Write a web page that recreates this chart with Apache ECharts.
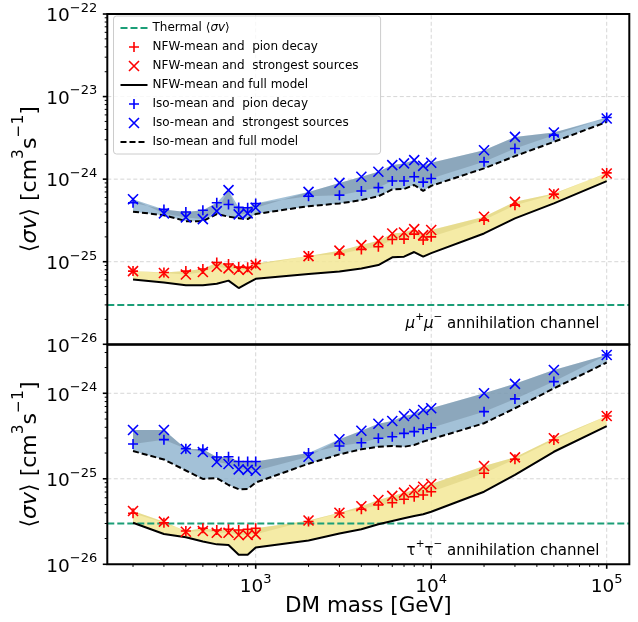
<!DOCTYPE html>
<html><head><meta charset="utf-8">
<script src="https://cdn.jsdelivr.net/npm/echarts@6/dist/echarts.min.js"></script>
<style>html,body{margin:0;padding:0;background:#fff}#c{width:638px;height:622px}#err{position:absolute;left:0;top:300px;font:11px monospace;color:#c00;white-space:pre-wrap;width:638px}</style>
</head><body><div id="c"></div><div id="err"></div>
<script>
window.onerror = function (m, s, l, c, e) { document.getElementById('err').textContent += 'ERR ' + m + ' @' + l + ':' + c + '\n'; };
// ---------------- data ----------------
const masses = [200,300,400,500,600,700,800,900,1000,2000,3000,4000,5000,6000,7000,8000,9000,10000,20000,30000,50000,100000];
const thermal = [3e-26];

// mu+ mu- channel (top panel)
const muNfwPion   = [7.7e-26,7.4e-26,7.7e-26,8.15e-26,9.8e-26,9.4e-26,8.6e-26,8.55e-26,9.5e-26,1.17e-25,1.24e-25,1.41e-25,1.52e-25,1.86e-25,1.88e-25,2.16e-25,1.83e-25,2.0e-25,3.19e-25,4.84e-25,6.58e-25,1.19e-24];
const muNfwStrong = [7.7e-26,7.3e-26,7.0e-26,7.5e-26,8.7e-26,8.3e-26,8.0e-26,8.0e-26,9.1e-26,1.17e-25,1.36e-25,1.59e-25,1.79e-25,2.2e-25,2.26e-25,2.48e-25,2.1e-25,2.42e-25,3.5e-25,5.31e-25,6.71e-25,1.17e-24];
const muNfwFull   = [6.1e-26,5.6e-26,5.2e-26,5.2e-26,5.4e-26,5.9e-26,4.8e-26,5.5e-26,6.2e-26,7.1e-26,7.6e-26,8.3e-26,9.1e-26,1.13e-25,1.15e-25,1.31e-25,1.15e-25,1.27e-25,2.2e-25,3.35e-25,5.08e-25,9.46e-25];
const muIsoPion   = [5.17e-25,4.3e-25,4.0e-25,4.2e-25,5.17e-25,4.94e-25,4.55e-25,4.5e-25,5.08e-25,6.2e-25,6.4e-25,7.2e-25,7.9e-25,9.5e-25,9.5e-25,1.07e-24,9.2e-25,1.02e-24,1.62e-24,2.35e-24,3.41e-24,5.57e-24];
const muIsoStrong = [5.7e-25,3.85e-25,3.44e-25,3.28e-25,4.1e-25,7.36e-25,3.74e-25,3.85e-25,4.5e-25,7.0e-25,9.0e-25,1.07e-24,1.23e-24,1.48e-24,1.55e-24,1.70e-24,1.45e-24,1.58e-24,2.24e-24,3.25e-24,3.67e-24,5.42e-24];
const muIsoFull   = [4.04e-25,3.66e-25,3.10e-25,3.10e-25,3.78e-25,3.51e-25,3.37e-25,3.28e-25,3.78e-25,4.71e-25,5.08e-25,5.57e-25,6.2e-25,7.5e-25,7.6e-25,8.5e-25,7.2e-25,8.3e-25,1.35e-24,1.90e-24,2.83e-24,4.93e-24];

// tau+ tau- channel (bottom panel)
const tauNfwPion   = [3.95e-26,3.06e-26,2.45e-26,2.64e-26,2.52e-26,2.57e-26,2.52e-26,2.57e-26,2.64e-26,3.17e-26,3.98e-26,4.4e-26,4.94e-26,5.25e-26,5.76e-26,6.17e-26,6.46e-26,7.06e-26,1.16e-25,1.69e-25,2.84e-25,5.43e-25];
const tauNfwStrong = [4.2e-26,3.15e-26,2.4e-26,2.45e-26,2.34e-26,2.34e-26,2.2e-26,2.2e-26,2.24e-26,3.25e-26,4.0e-26,4.77e-26,5.65e-26,6.3e-26,6.88e-26,7.4e-26,8.08e-26,8.7e-26,1.41e-25,1.78e-25,2.98e-25,5.43e-25];
const tauNfwFull   = [3.06e-26,2.26e-26,2.07e-26,1.85e-26,1.71e-26,1.68e-26,1.29e-26,1.29e-26,1.57e-26,1.9e-26,2.29e-26,2.57e-26,2.94e-26,3.21e-26,3.45e-26,3.67e-26,3.85e-26,4.12e-26,7.06e-26,1.11e-25,2.07e-25,4.14e-25];
const tauIsoPion   = [2.55e-25,2.87e-25,2.25e-25,2.21e-25,1.8e-25,1.81e-25,1.59e-25,1.59e-25,1.59e-25,2.0e-25,2.42e-25,2.64e-25,2.98e-25,3.1e-25,3.4e-25,3.56e-25,3.8e-25,3.96e-25,6.1e-25,8.6e-25,1.37e-24,2.8e-24];
const tauIsoStrong = [3.72e-25,3.72e-25,2.23e-25,2.06e-25,1.57e-25,1.49e-25,1.29e-25,1.27e-25,1.24e-25,1.81e-25,2.9e-25,3.65e-25,4.4e-25,4.74e-25,5.43e-25,5.73e-25,6.38e-25,6.68e-25,1.0e-24,1.29e-24,1.87e-24,2.8e-24];
const tauIsoFull   = [2.11e-25,1.68e-25,1.25e-25,9.95e-26,1.02e-25,8.46e-26,7.54e-26,7.6e-26,9.05e-26,1.5e-25,1.93e-25,2.21e-25,2.37e-25,2.42e-25,2.37e-25,2.48e-25,2.72e-25,2.9e-25,4.46e-25,6.68e-25,1.14e-24,2.29e-24];

// ticks (exponents of 10)
const xTickExps = [3, 4, 5];
const yTickExps = [[-26, -25, -24, -23, -22], [-26, -25, -24]];
const minorMantissas = [2,3,4,5,6,7,8,9];

const NAMES = {
  thermal: 'Thermal ⟨σv⟩',
  nfwPion: 'NFW-mean and  pion decay',
  nfwStrong: 'NFW-mean and  strongest sources',
  nfwFull: 'NFW-mean and full model',
  isoPion: 'Iso-mean and  pion decay',
  isoStrong: 'Iso-mean and  strongest sources',
  isoFull: 'Iso-mean and full model'
};

// ---------------- style ----------------
const FONT = 'DejaVu Sans';
const RED = '#ff0000', BLUE = '#0000ff', GREEN = '#1b9e77';
const X_MIN = 142.7, X_MAX = 134500;
// limits nudged by a hair so that the decade ticks at the edges are interior ticks
const Y_MIN = [0.9995e-26, 0.9995e-26], Y_MAX = [1.0005e-22, 3.7e-24];
const PLUS = 'path://M0,5L10,5M5,0L5,10';
const CROSS = 'path://M0,0L10,10M10,0L0,10';
const YEL_LIGHT = 'rgba(243,232,150,0.85)', YEL_DARK = 'rgba(200,185,90,0.30)';
const BLU_LIGHT = 'rgba(140,178,205,0.80)', BLU_DARK = 'rgba(90,110,125,0.30)';
const HIDDEN = {color: 'rgba(0,0,0,0)', borderColor: 'rgba(0,0,0,0)', borderWidth: 0, opacity: 0};

function fmtLog(exps) {
  return function (v) {
    const l = Math.log10(v), e = Math.round(l);
    if (Math.abs(l - e) > 1e-6 || exps.indexOf(e) < 0) return '';
    return '{b|10}{s|' + (e < 0 ? '−' : '') + Math.abs(e) + '}';
  };
}
const tickRich = {
  b: {fontFamily: FONT, fontSize: 18.5, lineHeight: 24, verticalAlign: 'bottom', color: '#000'},
  s: {fontFamily: FONT, fontSize: 13, lineHeight: 13, verticalAlign: 'top', color: '#000'}
};

function gridRender(g) {
  return function (params, api) {
    const bl = api.coord([X_MIN, Y_MIN[g]]), tr = api.coord([X_MAX, Y_MAX[g]]);
    const ch = [];
    const st = {stroke: '#d6d6d6', lineWidth: 1, lineDash: [4, 2.5]};
    xTickExps.forEach(e => {
      const c = api.coord([Math.pow(10, e), Y_MIN[g]]);
      ch.push({type: 'line', shape: {x1: c[0], y1: bl[1], x2: c[0], y2: tr[1]}, style: st});
    });
    yTickExps[g].forEach(e => {
      const v = Math.pow(10, e);
      if (v <= Y_MIN[g] * 1.01 || v >= Y_MAX[g] * 0.99) return;
      const c = api.coord([X_MIN, v]);
      ch.push({type: 'line', shape: {x1: bl[0], y1: c[1], x2: tr[0], y2: c[1]}, style: st});
    });
    return {type: 'group', children: ch};
  };
}

function thermalRender(g) {
  return function (params, api) {
    const a = api.coord([X_MIN, thermal[0]]), b = api.coord([X_MAX, thermal[0]]);
    return {type: 'line', shape: {x1: a[0], y1: a[1], x2: b[0], y2: b[1]},
            style: {stroke: GREEN, lineWidth: 2, lineDash: [7, 3]}};
  };
}

function frameRender(g) {
  return function (params, api) {
    const bl = api.coord([X_MIN, Y_MIN[g]]), tr = api.coord([X_MAX, Y_MAX[g]]);
    const ch = [];
    const major = {stroke: '#000', lineWidth: 1.6}, minor = {stroke: '#000', lineWidth: 1};
    const ylo = Math.floor(Math.log10(Y_MIN[g])), yhi = Math.ceil(Math.log10(Y_MAX[g]));
    yTickExps[g].forEach(e => {
      const c = api.coord([X_MIN, Math.pow(10, e)]);
      ch.push({type: 'line', shape: {x1: bl[0], y1: c[1], x2: bl[0] - 4.5, y2: c[1]}, style: major});
    });
    for (let e = ylo; e < yhi; e++) minorMantissas.forEach(m => {
      const v = m * Math.pow(10, e);
      if (v <= Y_MIN[g] || v >= Y_MAX[g]) return;
      const c = api.coord([X_MIN, v]);
      ch.push({type: 'line', shape: {x1: bl[0], y1: c[1], x2: bl[0] - 2.6, y2: c[1]}, style: minor});
    });
    if (g === 1) {
      xTickExps.forEach(e => {
        const c = api.coord([Math.pow(10, e), Y_MIN[g]]);
        ch.push({type: 'line', shape: {x1: c[0], y1: bl[1], x2: c[0], y2: bl[1] + 4.5}, style: major});
      });
      for (let e = 2; e < 6; e++) minorMantissas.forEach(m => {
        const v = m * Math.pow(10, e);
        if (v <= X_MIN || v >= X_MAX) return;
        const c = api.coord([v, Y_MIN[g]]);
        ch.push({type: 'line', shape: {x1: c[0], y1: bl[1], x2: c[0], y2: bl[1] + 2.6}, style: minor});
      });
    }
    ch.push({type: 'rect', shape: {x: bl[0], y: tr[1], width: tr[0] - bl[0], height: bl[1] - tr[1]},
             style: {stroke: '#000', lineWidth: 2, fill: 'none'}});
    return {type: 'group', children: ch};
  };
}

function bandRender(full, pion, strong, light, dark) {
  return function (params, api) {
    const up = masses.map((m, i) => api.coord([m, Math.max(pion[i], strong[i])]));
    const lo = masses.map((m, i) => api.coord([m, full[i]]));
    const a = masses.map((m, i) => api.coord([m, pion[i]]));
    const b = masses.map((m, i) => api.coord([m, strong[i]]));
    return {type: 'group', children: [
      {type: 'polygon', shape: {points: up.concat(lo.slice().reverse())}, style: {fill: light}},
      {type: 'polygon', shape: {points: a.concat(b.slice().reverse())}, style: {fill: dark}}
    ]};
  };
}

const pairs = arr => masses.map((m, i) => [m, arr[i]]);

function panelSeries(g, d) {
  const ax = {xAxisIndex: g, yAxisIndex: g};
  const S = [];
  S.push(Object.assign({type: 'custom', name: '_grid' + g, data: [[X_MIN, Y_MIN[g]]], renderItem: gridRender(g), z: 1, silent: true, clip: false}, ax));
  S.push(Object.assign({type: 'custom', name: '_bandN' + g, data: [[masses[0], d.nfwFull[0]]], renderItem: bandRender(d.nfwFull, d.nfwPion, d.nfwStrong, YEL_LIGHT, YEL_DARK), z: 2, silent: true}, ax));
  S.push(Object.assign({type: 'custom', name: '_bandI' + g, data: [[masses[0], d.isoFull[0]]], renderItem: bandRender(d.isoFull, d.isoPion, d.isoStrong, BLU_LIGHT, BLU_DARK), z: 2, silent: true}, ax));
  S.push(Object.assign({type: 'line', name: NAMES.thermal, data: [], symbol: 'none', z: 3, silent: true,
    lineStyle: {color: GREEN, width: 2, type: [7, 3]}, itemStyle: {color: GREEN}}, ax));
  S.push(Object.assign({type: 'custom', name: '_thermal' + g, data: [[X_MIN, thermal[0]]], renderItem: thermalRender(g), z: 3, silent: true, clip: false}, ax));
  S.push(Object.assign({type: 'line', name: NAMES.nfwFull, data: pairs(d.nfwFull), symbol: 'none', z: 3, silent: true,
    lineStyle: {color: '#000', width: 2}, itemStyle: {color: '#000'}}, ax));
  S.push(Object.assign({type: 'line', name: NAMES.isoFull, data: pairs(d.isoFull), symbol: 'none', z: 3, silent: true,
    lineStyle: {color: '#000', width: 2, type: [6, 3]}, itemStyle: {color: '#000'}}, ax));
  const sc = (name, arr, sym, col) => Object.assign({type: 'scatter', name: name, data: pairs(arr), symbol: sym, symbolSize: 10, z: 4, silent: true,
    itemStyle: {color: 'transparent', borderColor: col, borderWidth: 1.6, opacity: 1}}, ax);
  S.push(sc(NAMES.nfwPion, d.nfwPion, PLUS, RED));
  S.push(sc(NAMES.nfwStrong, d.nfwStrong, CROSS, RED));
  S.push(sc(NAMES.isoPion, d.isoPion, PLUS, BLUE));
  S.push(sc(NAMES.isoStrong, d.isoStrong, CROSS, BLUE));
  S.push(Object.assign({type: 'custom', name: '_frame' + g, data: [[X_MIN, Y_MIN[g]]], renderItem: frameRender(g), z: 6, silent: true, clip: false}, ax));
  return S;
}

const yNameRich = {
  t: {fontFamily: FONT, fontSize: 22, lineHeight: 30, verticalAlign: 'bottom', color: '#000'},
  i: {fontFamily: FONT, fontSize: 22, fontStyle: 'italic', lineHeight: 30, verticalAlign: 'bottom', color: '#000'},
  s: {fontFamily: FONT, fontSize: 15.5, lineHeight: 16, verticalAlign: 'top', color: '#000'}
};
const yName = '{t|⟨}{i|σv}{t|⟩ [cm}{s|3}{t|s}{s|−1}{t|]}';

function yAxisCfg(g) {
  return {type: 'log', gridIndex: g, min: Y_MIN[g], max: Y_MAX[g],
    axisLine: {show: false}, axisTick: {show: false}, splitLine: {show: false}, minorTick: {show: false},
    axisLabel: {formatter: fmtLog(yTickExps[g]), rich: tickRich, margin: 10, showMinLabel: true, showMaxLabel: true, hideOverlap: false},
    name: yName, nameLocation: 'middle', nameRotate: 90, nameGap: 66, nameMoveOverlap: false,
    nameTextStyle: {rich: yNameRich}};
}

const legendIconStyle = (col) => ({color: 'transparent', borderColor: col, borderWidth: 1.6, opacity: 1});

const option = {
  animation: false,
  backgroundColor: '#fff',
  textStyle: {fontFamily: FONT},
  grid: [
    {left: 107.3, top: 14, width: 522, height: 330.3, containLabel: false, outerBoundsMode: 'none'},
    {left: 107.3, top: 344.7, width: 522, height: 219.6, containLabel: false, outerBoundsMode: 'none'}
  ],
  xAxis: [
    {type: 'log', gridIndex: 0, min: X_MIN, max: X_MAX, axisLine: {show: false}, axisTick: {show: false},
     splitLine: {show: false}, axisLabel: {show: false}},
    {type: 'log', gridIndex: 1, min: X_MIN, max: X_MAX, axisLine: {show: false}, axisTick: {show: false},
     splitLine: {show: false}, axisLabel: {formatter: fmtLog(xTickExps), rich: tickRich, margin: 8.5, hideOverlap: false},
     name: 'DM mass [GeV]', nameLocation: 'middle', nameGap: 31, nameMoveOverlap: false,
     nameTextStyle: {fontFamily: FONT, fontSize: 21.5, color: '#000'}}
  ],
  yAxis: [yAxisCfg(0), yAxisCfg(1)],
  legend: {
    orient: 'vertical', left: 113.5, top: 16, z: 10,
    padding: [6, 22, 6, 6], itemGap: 7, itemWidth: 27, itemHeight: 10, itemTextGap: 14,
    backgroundColor: 'rgba(255,255,255,0.8)', borderColor: '#cccccc', borderWidth: 1, borderRadius: 3,
    selectedMode: false,
    textStyle: {fontFamily: FONT, fontSize: 12, color: '#000', rich: {i: {fontFamily: FONT, fontSize: 12, fontStyle: 'italic', color: '#000'}}},
    formatter: name => name === NAMES.thermal ? 'Thermal ⟨{i|σv}⟩' : name,
    data: [
      {name: NAMES.thermal, itemStyle: HIDDEN, lineStyle: {color: GREEN, width: 2, type: [7, 3]}},
      {name: NAMES.nfwPion, icon: PLUS, itemStyle: legendIconStyle(RED)},
      {name: NAMES.nfwStrong, icon: CROSS, itemStyle: legendIconStyle(RED)},
      {name: NAMES.nfwFull, itemStyle: HIDDEN, lineStyle: {color: '#000', width: 2}},
      {name: NAMES.isoPion, icon: PLUS, itemStyle: legendIconStyle(BLUE)},
      {name: NAMES.isoStrong, icon: CROSS, itemStyle: legendIconStyle(BLUE)},
      {name: NAMES.isoFull, itemStyle: HIDDEN, lineStyle: {color: '#000', width: 2, type: [6, 3]}}
    ]
  },
  graphic: [
    {type: 'text', x: 599.3, y: 321.7, z: 20, style: {
      text: '{i|μ}{s|+}{i|μ}{s|−}{t| annihilation channel}', align: 'right', verticalAlign: 'middle',
      fontFamily: FONT, fontSize: 15, fill: '#000',
      rich: {t: {fontFamily: FONT, fontSize: 15, lineHeight: 20, verticalAlign: 'bottom'},
             i: {fontFamily: FONT, fontSize: 15, fontStyle: 'italic', lineHeight: 20, verticalAlign: 'bottom'},
             s: {fontFamily: FONT, fontSize: 10.5, lineHeight: 11, verticalAlign: 'top'}}}},
    {type: 'text', x: 599.3, y: 548.3, z: 20, style: {
      text: '{t|τ}{s|+}{t|τ}{s|−}{t| annihilation channel}', align: 'right', verticalAlign: 'middle',
      fontFamily: FONT, fontSize: 15, fill: '#000',
      rich: {t: {fontFamily: FONT, fontSize: 15, lineHeight: 20, verticalAlign: 'bottom'},
             s: {fontFamily: FONT, fontSize: 10.5, lineHeight: 11, verticalAlign: 'top'}}}}
  ],
  series: [].concat(
    panelSeries(0, {nfwPion: muNfwPion, nfwStrong: muNfwStrong, nfwFull: muNfwFull, isoPion: muIsoPion, isoStrong: muIsoStrong, isoFull: muIsoFull}),
    panelSeries(1, {nfwPion: tauNfwPion, nfwStrong: tauNfwStrong, nfwFull: tauNfwFull, isoPion: tauIsoPion, isoStrong: tauIsoStrong, isoFull: tauIsoFull})
  )
};

try {
  const chart = echarts.init(document.getElementById('c'), null, {renderer: 'canvas'});
  chart.setOption(option);
} catch (e) {
  document.getElementById('err').textContent += 'CATCH ' + e.message + '\n' + e.stack;
}
</script>
</body></html>
